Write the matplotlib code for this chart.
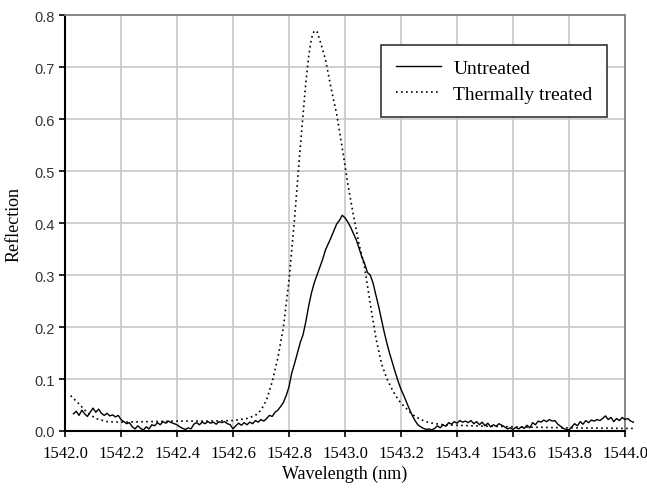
"""
Reflection spectra of a grating, untreated vs thermally treated.
"""

import matplotlib.pyplot as plt
import numpy as np

# Untreated spectrum, read every 0.01 nm starting at 1542.03 nm
untreated_start = 1542.03
untreated_step = 0.01
untreated = [
    0.033, 0.038, 0.030, 0.040, 0.033, 0.028, 0.036, 0.044, 0.036, 0.042,
    0.034, 0.030, 0.034, 0.029, 0.031, 0.027, 0.030, 0.022, 0.018, 0.014,
    0.016, 0.008, 0.004, 0.010, 0.005, 0.002, 0.008, 0.004, 0.012, 0.010,
    0.016, 0.012, 0.018, 0.015, 0.019, 0.016, 0.014, 0.012, 0.008, 0.005,
    0.003, 0.006, 0.004, 0.013, 0.016, 0.012, 0.017, 0.014, 0.018, 0.015,
    0.017, 0.013, 0.018, 0.016, 0.018, 0.014, 0.012, 0.004, 0.010, 0.015,
    0.011, 0.016, 0.012, 0.017, 0.014, 0.020, 0.017, 0.022, 0.019, 0.024,
    0.030, 0.028, 0.036, 0.040, 0.047, 0.055, 0.068, 0.085, 0.112, 0.130,
    0.150, 0.170, 0.185, 0.210, 0.240, 0.265, 0.285, 0.300, 0.315, 0.330,
    0.348, 0.360, 0.372, 0.385, 0.398, 0.405, 0.415, 0.410, 0.402, 0.392,
    0.380, 0.368, 0.352, 0.335, 0.322, 0.305, 0.300, 0.285, 0.262, 0.240,
    0.215, 0.190, 0.168, 0.148, 0.130, 0.112, 0.095, 0.080, 0.068, 0.055,
    0.042, 0.030, 0.020, 0.012, 0.008, 0.005, 0.003, 0.004, 0.002, 0.005,
    0.010, 0.006, 0.012, 0.009, 0.016, 0.013, 0.018, 0.015, 0.020, 0.017,
    0.019, 0.016, 0.020, 0.014, 0.018, 0.012, 0.017, 0.010, 0.015, 0.008,
    0.012, 0.009, 0.014, 0.011, 0.008, 0.004, 0.006, 0.003, 0.007, 0.004,
    0.008, 0.005, 0.011, 0.006, 0.016, 0.012, 0.019, 0.017, 0.021, 0.018,
    0.022, 0.019, 0.020, 0.013, 0.009, 0.005, 0.003, 0.002, 0.008, 0.014,
    0.010, 0.018, 0.013, 0.020, 0.016, 0.021, 0.019, 0.022, 0.020, 0.024,
    0.029, 0.022, 0.026, 0.018, 0.024, 0.020, 0.026, 0.022, 0.024, 0.019,
    0.017,
]

# Thermally treated spectrum (smooth), read at irregular wavelengths
thermal_wl = [
    1542.02, 1542.05, 1542.08, 1542.11, 1542.15, 1542.20, 1542.30, 1542.40,
    1542.50, 1542.60, 1542.65, 1542.68, 1542.70, 1542.72, 1542.74, 1542.76,
    1542.78, 1542.80, 1542.82, 1542.84, 1542.86, 1542.87, 1542.88, 1542.89,
    1542.90, 1542.91, 1542.93, 1542.95, 1542.97, 1542.99, 1543.01, 1543.03,
    1543.05, 1543.07, 1543.09, 1543.11, 1543.13, 1543.15, 1543.17, 1543.19,
    1543.21, 1543.24, 1543.27, 1543.30, 1543.35, 1543.45, 1543.60, 1543.80,
    1544.00, 1544.03,
]
thermal = [
    0.068, 0.052, 0.035, 0.024, 0.018, 0.017, 0.018, 0.019,
    0.019, 0.020, 0.024, 0.030, 0.040, 0.060, 0.095, 0.140,
    0.200, 0.290, 0.410, 0.545, 0.670, 0.720, 0.755, 0.770,
    0.768, 0.752, 0.715, 0.660, 0.610, 0.545, 0.475, 0.415,
    0.360, 0.315, 0.245, 0.180, 0.130, 0.100, 0.078, 0.060,
    0.048, 0.032, 0.022, 0.016, 0.012, 0.010, 0.008, 0.006,
    0.005, 0.005,
]

x_ticks = [1542.0, 1542.2, 1542.4, 1542.6, 1542.8, 1543.0,
           1543.2, 1543.4, 1543.6, 1543.8, 1544.0]
y_ticks = [0.0, 0.1, 0.2, 0.3, 0.4, 0.5, 0.6, 0.7, 0.8]

serif = 'Liberation Serif'
sans = 'Liberation Sans'

untreated_wl = untreated_start + untreated_step * np.arange(len(untreated))

fig = plt.figure(figsize=(6.47, 4.89), dpi=100)
ax = fig.add_axes([0.1005, 0.1166, 0.8655, 0.8504])

ax.plot(untreated_wl, untreated, color='black', linewidth=1.0,
        label='Untreated', clip_on=False, zorder=3)
ax.plot(thermal_wl, thermal, color='black', linewidth=1.2,
        linestyle=(0, (1, 2.0)), label='Thermally treated',
        clip_on=False, zorder=3)

ax.set_xlim(1542.0, 1544.0)
ax.set_ylim(0.0, 0.8)
ax.set_xticks(x_ticks)
ax.set_yticks(y_ticks)
ax.set_xticklabels([f"{t:.1f}" for t in x_ticks], fontfamily=serif, fontsize=12)
ax.set_yticklabels([f"{t:.1f}" for t in y_ticks], fontfamily=sans, fontsize=10.5,
                   color='#333333')

ax.grid(True, color='#c8c8c8', linewidth=1.2)
ax.set_axisbelow(True)

for side in ['left', 'bottom']:
    ax.spines[side].set_color('black')
    ax.spines[side].set_linewidth(1.5)
for side in ['top', 'right']:
    ax.spines[side].set_color('#808080')
    ax.spines[side].set_linewidth(1.3)

ax.tick_params(axis='both', direction='out', length=4, width=1.2, color='black')
ax.tick_params(axis='x', pad=6)

ax.set_xlabel('Wavelength (nm)', fontfamily=serif, fontsize=13, labelpad=3)
ax.set_ylabel('Reflection', fontfamily=serif, fontsize=13, labelpad=8)

leg = ax.legend(loc='upper right', bbox_to_anchor=(0.968, 0.928),
                borderaxespad=0, fancybox=False, framealpha=1,
                edgecolor='#333333', prop={'family': serif, 'size': 14},
                handlelength=2.3, handletextpad=0.65, borderpad=0.75,
                labelspacing=0.4)
leg.get_frame().set_linewidth(1.2)

fig.savefig('out.png', dpi=100)
